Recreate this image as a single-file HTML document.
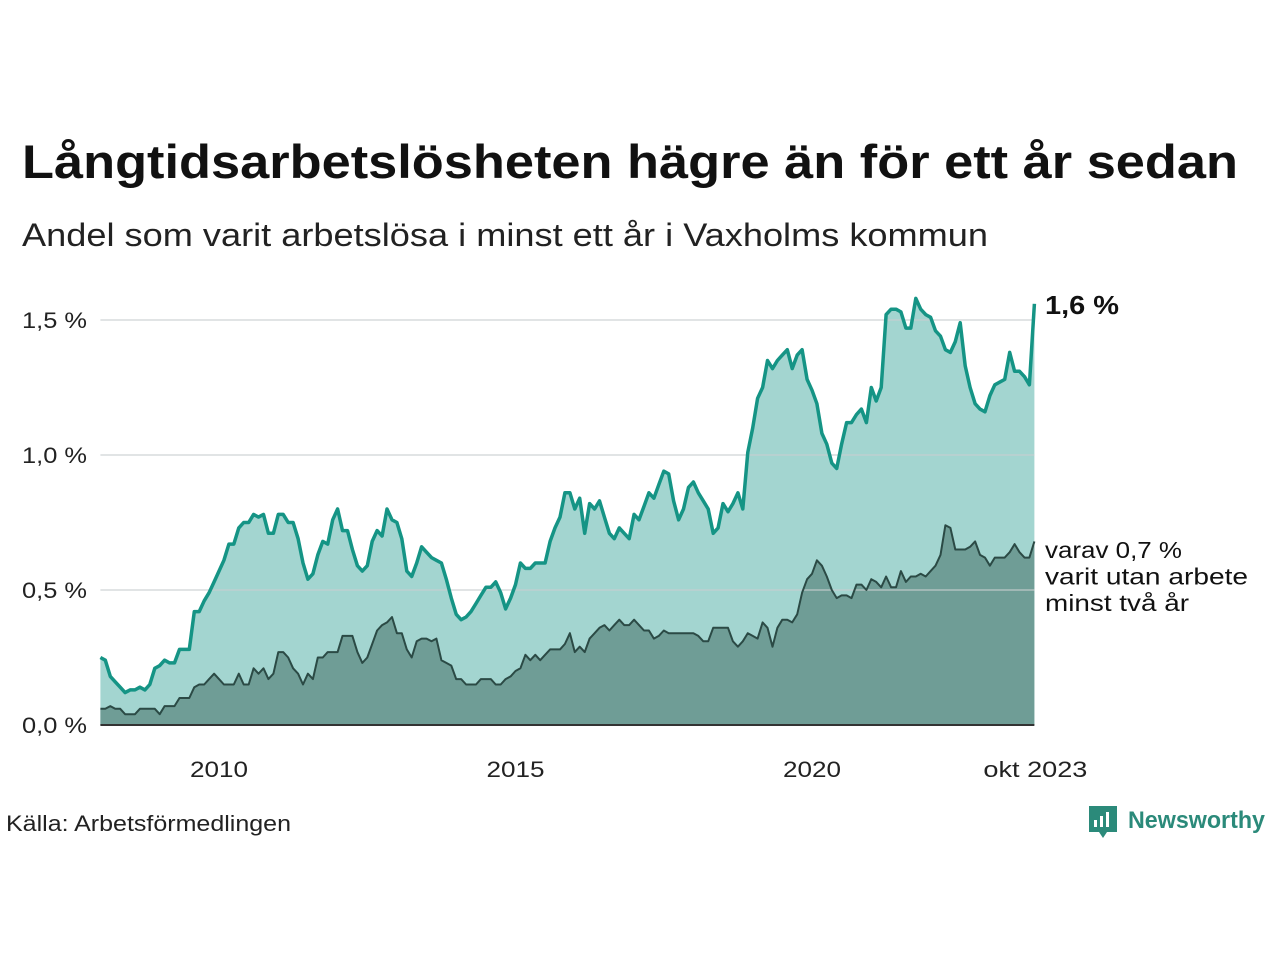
<!DOCTYPE html>
<html><head><meta charset="utf-8"><style>
html,body{margin:0;padding:0;background:#fff;}
svg{display:block;font-family:"Liberation Sans","DejaVu Sans",sans-serif;}
</style></head><body>
<svg id="chart" width="1280" height="960" xmlns="http://www.w3.org/2000/svg">
<text x="22" y="178" font-size="47" font-weight="bold" fill="#111" textLength="1216" lengthAdjust="spacingAndGlyphs">Långtidsarbetslösheten hägre än för ett år sedan</text>
<text x="22" y="246" font-size="32" fill="#222" textLength="966" lengthAdjust="spacingAndGlyphs">Andel som varit arbetslösa i minst ett år i Vaxholms kommun</text>
<g id="plot"></g>
<text x="6" y="831" font-size="22" fill="#222" textLength="285" lengthAdjust="spacingAndGlyphs">Källa: Arbetsförmedlingen</text>
<g>
<path d="M1089 806 h28 v26 h-10 l-4 6 l-4 -6 h-10 z" fill="#2b8a7a"/>
<rect x="1094" y="820" width="3" height="7" fill="#fff"/><rect x="1100" y="816" width="3" height="11" fill="#fff"/><rect x="1106" y="812" width="3" height="15" fill="#fff"/>
<text x="1128" y="828" font-size="24" font-weight="bold" fill="#2b8a7a" textLength="137" lengthAdjust="spacingAndGlyphs">Newsworthy</text>
</g>
</svg>
<script>
const total = [.25,.24,.18,.16,.14,.12,.13,.13,.14,.13,.15,.21,.22,.24,.23,.23,.28,.28,.28,.42,.42,.46,.49,.53,.57,.61,.67,.67,.73,.75,.75,.78,.77,.78,.71,.71,.78,.78,.75,.75,.69,.60,.54,.56,.63,.68,.67,.76,.80,.72,.72,.65,.59,.57,.59,.68,.72,.70,.80,.76,.75,.69,.57,.55,.60,.66,.64,.62,.61,.60,.54,.47,.41,.39,.40,.42,.45,.48,.51,.51,.53,.49,.43,.47,.52,.60,.58,.58,.60,.60,.60,.68,.73,.77,.86,.86,.80,.84,.71,.82,.80,.83,.77,.71,.69,.73,.71,.69,.78,.76,.81,.86,.84,.89,.94,.93,.83,.76,.80,.88,.90,.86,.83,.80,.71,.73,.82,.79,.82,.86,.80,1.01,1.10,1.21,1.25,1.35,1.32,1.35,1.37,1.39,1.32,1.37,1.39,1.28,1.24,1.19,1.08,1.04,.97,.95,1.04,1.12,1.12,1.15,1.17,1.12,1.25,1.20,1.25,1.52,1.54,1.54,1.53,1.47,1.47,1.58,1.54,1.52,1.51,1.46,1.44,1.39,1.38,1.42,1.49,1.33,1.25,1.19,1.17,1.16,1.22,1.26,1.27,1.28,1.38,1.31,1.31,1.29,1.26,1.56];
const twoYear = [.06,.06,.07,.06,.06,.04,.04,.04,.06,.06,.06,.06,.04,.07,.07,.07,.10,.10,.10,.14,.15,.15,.17,.19,.17,.15,.15,.15,.19,.15,.15,.21,.19,.21,.17,.19,.27,.27,.25,.21,.19,.15,.19,.17,.25,.25,.27,.27,.27,.33,.33,.33,.27,.23,.25,.30,.35,.37,.38,.40,.34,.34,.28,.25,.31,.32,.32,.31,.32,.24,.23,.22,.17,.17,.15,.15,.15,.17,.17,.17,.15,.15,.17,.18,.20,.21,.26,.24,.26,.24,.26,.28,.28,.28,.30,.34,.27,.29,.27,.32,.34,.36,.37,.35,.37,.39,.37,.37,.39,.37,.35,.35,.32,.33,.35,.34,.34,.34,.34,.34,.34,.33,.31,.31,.36,.36,.36,.36,.31,.29,.31,.34,.33,.32,.38,.36,.29,.36,.39,.39,.38,.41,.49,.54,.56,.61,.59,.55,.50,.47,.48,.48,.47,.52,.52,.50,.54,.53,.51,.55,.51,.51,.57,.53,.55,.55,.56,.55,.57,.59,.63,.74,.73,.65,.65,.65,.66,.68,.63,.62,.59,.62,.62,.62,.64,.67,.64,.62,.62,.68];
const yTicks = [0, 0.5, 1.0, 1.5];
const yTickLabels = ["0,0 %", "0,5 %", "1,0 %", "1,5 %"];
const xTickYears = [2010, 2015, 2020];
const startYear = 2008;
const lastLabel = "okt 2023";
const lastTotalLabel = "1,6 %";
const twoYearLabel = ["varav 0,7 %", "varit utan arbete", "minst två år"];

const NS = "http://www.w3.org/2000/svg";
const g = document.getElementById('plot');
const X0 = 100.4, PER_MONTH = 59.3 / 12, Y0 = 725, PER_UNIT = 270;
const xs = i => X0 + i * PER_MONTH;
const xYear = yr => X0 + (yr - startYear) * 59.3;
const ys = v => Y0 - v * PER_UNIT;
function mk(tag, attrs){ const e = document.createElementNS(NS, tag); for (const k in attrs) e.setAttribute(k, attrs[k]); g.appendChild(e); return e; }
const n = total.length, xEnd = xs(n - 1);
function pts(arr){ return arr.map((v, i) => xs(i).toFixed(1) + ',' + ys(v).toFixed(1)).join(' '); }

const a1 = mk('polygon', {points: pts(total) + ` ${xEnd},${Y0} ${X0},${Y0}`, fill: '#a3d5d0'});


const a2 = mk('polygon', {points: pts(twoYear) + ` ${xEnd},${Y0} ${X0},${Y0}`, fill: '#6f9d96'});



yTicks.forEach((t, k) => {
  if (t > 0) {
    const l = mk('line', {x1: X0, x2: xEnd, y1: ys(t), y2: ys(t), stroke: '#c8cdd0', 'stroke-width': 2, 'stroke-opacity': 0.55});
    
    
  }
  const tx = mk('text', {x: 22, y: ys(t) + 8, 'font-size': 22, fill: '#222', textLength: 65, lengthAdjust: 'spacingAndGlyphs'});
  tx.textContent = yTickLabels[k];
  
  
});

const l2 = mk('polyline', {points: pts(twoYear), fill: 'none', stroke: '#2b4a45', 'stroke-width': 2, 'stroke-linejoin': 'round'});


const l1 = mk('polyline', {points: pts(total), fill: 'none', stroke: '#159485', 'stroke-width': 3.5, 'stroke-linejoin': 'round'});



const ax = mk('line', {x1: X0, x2: xEnd, y1: Y0, y2: Y0, stroke: '#333', 'stroke-width': 2});



xTickYears.forEach(yr => {
  const tx = mk('text', {x: xYear(yr) - 29, y: 777, 'font-size': 22, fill: '#222', textLength: 58, lengthAdjust: 'spacingAndGlyphs'});
  tx.textContent = String(yr);
  
  
});
const lt = mk('text', {x: xEnd - 51, y: 777, 'font-size': 22, fill: '#222', textLength: 104, lengthAdjust: 'spacingAndGlyphs'});
lt.textContent = lastLabel;



const vl = mk('text', {x: 1045, y: ys(total[n-1]) + 10, 'font-size': 26, 'font-weight': 'bold', fill: '#111', textLength: 74, lengthAdjust: 'spacingAndGlyphs'});
vl.textContent = lastTotalLabel;


const annoW = [137, 203, 144];
twoYearLabel.forEach((s, k) => {
  const t = mk('text', {x: 1045, y: 558 + k * 26.5, 'font-size': 23, fill: '#111', textLength: annoW[k], lengthAdjust: 'spacingAndGlyphs'});
  t.textContent = s;
  
  
});
</script>
</body></html>
